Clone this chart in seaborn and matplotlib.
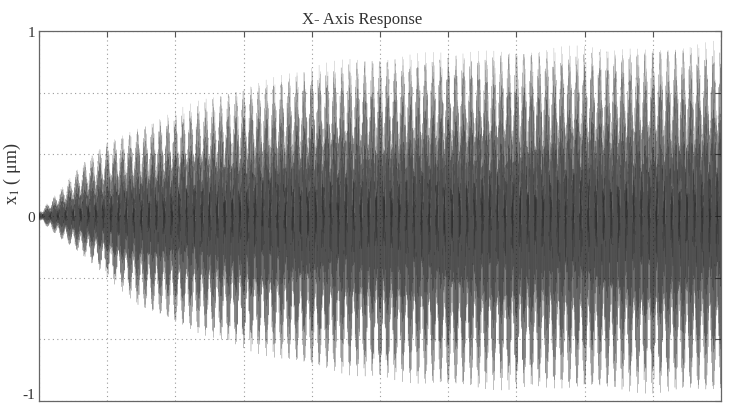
import numpy as np
import pandas as pd
import matplotlib
matplotlib.use("Agg")
import matplotlib.pyplot as plt
from matplotlib.ticker import FixedLocator, NullFormatter
import seaborn as sns

# ---- data ----
title = "X- Axis Response"
ylabel = "x$_1$ ( μm)"
# envelope of the response (x in grid divisions 0..10, y in μm)
env_t = [0, 0.3, 0.65, 1.0, 1.48, 2.36, 3.05, 4.0, 4.56, 6.03, 7.5, 8.96, 10]
env_upper = [0.02, 0.14, 0.30, 0.41, 0.49, 0.63, 0.72, 0.82, 0.86, 0.90, 0.92, 0.93, 0.95]
env_lower = [-0.02, -0.12, -0.22, -0.33, -0.50, -0.65, -0.73, -0.83, -0.87, -0.94, -0.95, -0.96, -0.97]
# oscillation content (cycles across the full record) and mix weights
carrier_cycles = [3000, 3090, 4853]
carrier_weights = [0.45, 0.25, 0.30]
ytick_vals = [-1, -2/3, -1/3, 0, 1/3, 2/3, 1]
ytick_labels = ["-1", "", "", "0", "", "", "1"]
xtick_vals = list(range(0, 11))

# ---- build the trace ----
n_per_cycle = 16
t = np.linspace(0, 10, carrier_cycles[0] * n_per_cycle + 1)
c = sum(w * np.cos(2 * np.pi * f * t / 10) for f, w in zip(carrier_cycles, carrier_weights))
up = np.interp(t, env_t, env_upper)
lo = np.interp(t, env_t, env_lower)
y = np.where(c >= 0, c * up, -c * lo)
cycle_id = np.minimum(np.arange(len(t)) // n_per_cycle, carrier_cycles[0] - 1)
df = pd.DataFrame({"t": t, "x1": y, "cycle": cycle_id})

sns.set_theme(style="white")
plt.rcParams["font.family"] = ["Liberation Serif", "DejaVu Serif"]
plt.rcParams["mathtext.fontset"] = "stix"
plt.rcParams["path.simplify"] = False

fig = plt.figure(figsize=(7.29, 4.06), dpi=100)
ax = fig.add_axes([39 / 729, 1 - 402 / 406, (721 - 39) / 729, (402 - 32) / 406])

sns.lineplot(data=df, x="t", y="x1", units="cycle", ax=ax, estimator=None,
             sort=False, color="#1a1a1a", linewidth=0.25, alpha=0.4, zorder=3)

ax.set_xlim(0, 10)
ax.set_ylim(-1, 1)
ax.xaxis.set_major_locator(FixedLocator(xtick_vals))
ax.xaxis.set_major_formatter(NullFormatter())
ax.set_yticks(ytick_vals)
ax.set_yticklabels(ytick_labels)
ax.tick_params(direction="in", length=4, width=0.8, color="#555555",
               top=True, right=True, labelsize=11, pad=3, labelcolor="#333333")
ax.get_yticklabels()[0].set_verticalalignment("bottom")
ax.grid(True, color="#9a9a9a", linestyle=(0, (1, 3)), linewidth=0.8, zorder=0)
for s in ax.spines.values():
    s.set_color("#666666")
    s.set_linewidth(0.9)
ax.set_xlabel("")
ax.set_ylabel(ylabel, fontsize=13, color="#333333", labelpad=2)
ax.yaxis.set_label_coords(-0.023, 0.616)
ax.set_title(title, fontsize=12, color="#333333", pad=6, x=0.474)

fig.savefig("out.png", dpi=100)
